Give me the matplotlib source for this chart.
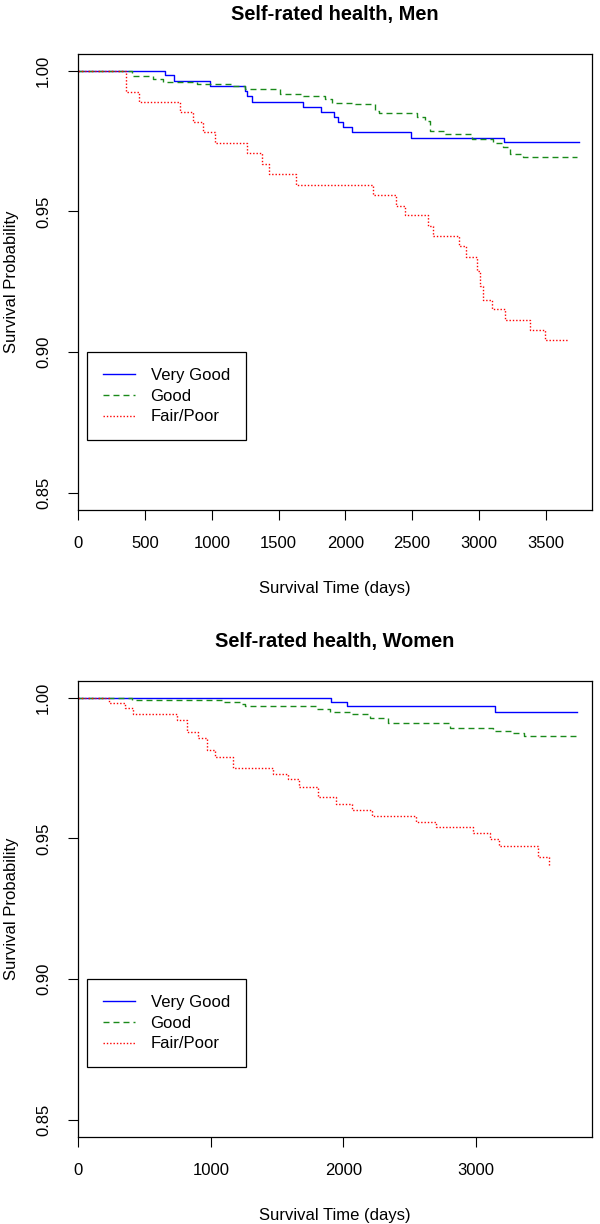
import matplotlib
matplotlib.use('Agg')
import matplotlib.pyplot as plt

plt.rcParams['font.family'] = ['Liberation Sans', 'DejaVu Sans']

# --- Men: Kaplan-Meier step curves (time in days, survival probability) ---
men_vg_t = [0, 649, 719, 987, 1249, 1261, 1299, 1685, 1816, 1918, 1948, 1981, 2048, 2492, 3191, 3753]
men_vg_s = [1.0, 0.99836, 0.99645, 0.99457, 0.99291, 0.99113, 0.98901, 0.98713, 0.98546, 0.98369,
            0.98181, 0.98014, 0.97816, 0.97624, 0.97472, 0.97472]

men_g_t = [0, 400, 562, 637, 887, 1161, 1249, 1511, 1685, 1848, 1898, 2073, 2223, 2250, 2539, 2597,
           2635, 2747, 2947, 3109, 3184, 3234, 3329, 3733]
men_g_s = [1.0, 0.99823, 0.99695, 0.99599, 0.99516, 0.99457, 0.99362, 0.99184, 0.99103, 0.98986,
           0.98865, 0.98809, 0.98560, 0.98489, 0.98369, 0.98216, 0.97872, 0.97755, 0.97567, 0.97447,
           0.97284, 0.97046, 0.96929, 0.96929]

men_fp_t = [0, 357, 457, 762, 861, 936, 1024, 1261, 1374, 1428, 1628, 2210, 2380, 2447, 2622, 2655,
            2854, 2904, 2989, 3010, 3034, 3097, 3196, 3384, 3496, 3670]
men_fp_s = [1.0, 0.99255, 0.98901, 0.98546, 0.98170, 0.97816, 0.97447, 0.97071, 0.96691, 0.96337,
            0.95947, 0.95592, 0.95213, 0.94858, 0.94468, 0.94113, 0.93759, 0.93383, 0.92900, 0.92350,
            0.91869, 0.91539, 0.91160, 0.90805, 0.90426, 0.90426]

# --- Women ---
wom_vg_t = [0, 1909, 2026, 3139, 3759]
wom_vg_s = [1.0, 0.99850, 0.99705, 0.99503, 0.99503]

wom_g_t = [0, 402, 1092, 1218, 1256, 1796, 1896, 2060, 2197, 2335, 2800, 3126, 3265, 3365, 3774]
wom_g_s = [1.0, 0.99918, 0.99836, 0.99776, 0.99705, 0.99586, 0.99503, 0.99421, 0.99267, 0.99090,
           0.98913, 0.98828, 0.98735, 0.98639, 0.98639]

wom_fp_t = [0, 231, 352, 410, 746, 817, 904, 967, 1030, 1168, 1469, 1582, 1665, 1808, 1946, 2067,
            2218, 2544, 2695, 2976, 3107, 3171, 3465, 3548]
wom_fp_s = [1.0, 0.99822, 0.99623, 0.99410, 0.99208, 0.98792, 0.98558, 0.98142, 0.97904, 0.97513,
            0.97290, 0.97101, 0.96838, 0.96462, 0.96224, 0.96011, 0.95797, 0.95595, 0.95396, 0.95183,
            0.94970, 0.94732, 0.94352, 0.93975]

group_labels = ['Very Good', 'Good', 'Fair/Poor']
y_ticks = [0.85, 0.90, 0.95, 1.00]
men_x_ticks = [0, 500, 1000, 1500, 2000, 2500, 3000, 3500]
wom_x_ticks = [0, 1000, 2000, 3000]

colors = ['#0000ff', '#1a8a1a', '#ff0000']
styles = ['-', (0, (4.3, 2.9)), (0, (1, 1.4))]

W, H = 600, 1224
fig = plt.figure(figsize=(W / 100, H / 100), dpi=100)


def px_axes(left, top, right, bottom):
    return fig.add_axes([left / W, 1 - bottom / H, (right - left) / W, (bottom - top) / H])


def km_panel(ax, curves, title, xmax, xticks):
    for (t, s), lab, c, ls in zip(curves, group_labels, colors, styles):
        ax.step(t, s, where='post', color=c, linestyle=ls, lw=1.0, label=lab)
    ax.set_xlim(0, xmax)
    ax.set_ylim(0.844, 1.006)
    ax.set_xticks(xticks)
    ax.set_xticklabels([str(v) for v in xticks])
    ax.set_yticks(y_ticks)
    ax.set_yticklabels(['%.2f' % v for v in y_ticks])
    ax.tick_params(direction='out', length=7.2, width=0.8, labelsize=12, top=False, right=False)
    ax.tick_params(axis='x', pad=11.7)
    ax.tick_params(axis='y', labelrotation=90, pad=12.3)
    for lbl in ax.get_yticklabels():
        lbl.set_va('center')
    for sp in ax.spines.values():
        sp.set_linewidth(0.9)
    ax.set_title(title, fontsize=14.4, fontweight='bold', pad=24)
    ax.set_xlabel('Survival Time (days)', fontsize=12)
    ax.set_ylabel('Survival Probability', fontsize=12)
    ax.xaxis.set_label_coords(0.5, -0.155)
    ax.yaxis.set_label_coords(-0.115, 0.5)
    leg = ax.legend(loc='upper left', bbox_to_anchor=(67, 0.90), bbox_transform=ax.transData,
                    borderaxespad=0, fontsize=12, frameon=True, fancybox=False, framealpha=1,
                    edgecolor='black', handlelength=1.9, handletextpad=0.95, borderpad=0.95,
                    labelspacing=0.34)
    leg.get_frame().set_linewidth(0.9)


ax1 = px_axes(78.3, 53.8, 591.7, 510)
km_panel(ax1, [(men_vg_t, men_vg_s), (men_g_t, men_g_s), (men_fp_t, men_fp_s)],
         'Self-rated health, Men', 3846, men_x_ticks)

ax2 = px_axes(78.3, 680.8, 591.7, 1137)
km_panel(ax2, [(wom_vg_t, wom_vg_s), (wom_g_t, wom_g_s), (wom_fp_t, wom_fp_s)],
         'Self-rated health, Women', 3872, wom_x_ticks)

fig.savefig('out.png', dpi=100)
